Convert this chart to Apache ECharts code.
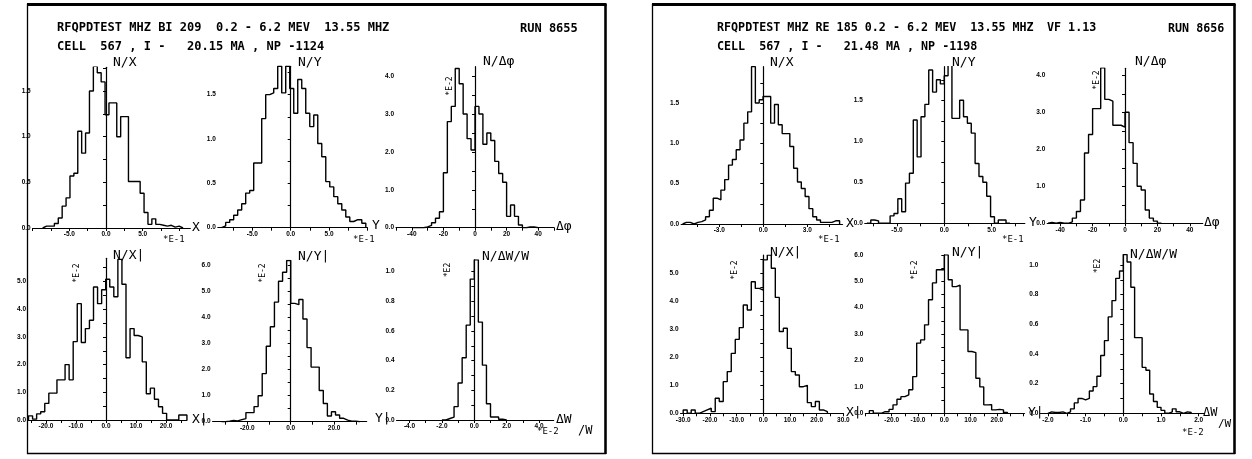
<!DOCTYPE html>
<html><head><meta charset="utf-8">
<script src="https://cdn.jsdelivr.net/npm/echarts@6/dist/echarts.min.js"></script>
<style>html,body{margin:0;padding:0;background:#fff}#c{width:1252px;height:459px}</style>
</head><body><div id="c"></div>
<script>
// ---------------- DATA ----------------
// Left run 8655
const L1_binStart = -8.64, L1_binWidth = 0.532;
const L1_counts = [0.02,0.02,0.02,0.05,0.11,0.24,0.33,0.57,0.6,1.06,0.82,1.04,1.5,1.77,1.7,1.6,1.24,1.37,1.37,1.0,1.22,1.22,0.51,0.51,0.51,0.38,0.17,0.04,0.1,0.04,0.03,0.02,0.03,0.01,0.02,0.0];
const L1_xLabels = [-5, 0, 5];
const L1_yLabels = [0, 0.5, 1.0, 1.5];

const L2_binStart = -9.0, L2_binWidth = 0.522;
const L2_counts = [0.02,0.06,0.09,0.14,0.2,0.27,0.39,0.42,0.73,0.73,1.23,1.5,1.52,1.57,1.82,1.52,1.82,1.57,1.29,1.67,1.57,1.29,1.14,1.27,0.95,0.8,0.52,0.46,0.35,0.27,0.2,0.12,0.07,0.09,0.09,0.05];
const L2_xLabels = [-5, 0, 5];
const L2_yLabels = [0, 0.5, 1.0, 1.5];

const L3_binStart = -40, L3_binWidth = 2.5;
const L3_counts = [0,0,0,0.02,0.06,0.13,0.25,0.42,1.45,2.8,3.2,4.2,3.8,3.0,2.35,2.05,3.2,3.0,2.2,2.5,2.3,1.75,1.43,1.2,0.3,0.6,0.3,0.07,0,0.02,0.02,0];
const L3_xLabels = [-40, -20, 0, 20, 40];
const L3_yLabels = [0, 1, 2, 3, 4];

const L4_binStart = -25.83, L4_binWidth = 1.354;
const L4_counts = [0.15,0.03,0.22,0.3,0.6,0.97,0.97,1.45,1.45,2.0,1.45,2.83,4.2,2.8,3.3,3.6,4.8,4.2,4.7,5.08,4.8,4.45,5.8,4.9,2.25,3.3,3.05,3.0,2.1,0.95,1.15,0.75,0.48,0.24,0,0,0,0.18,0.18];
const L4_xLabels = [-20, -10, 0, 10, 20];
const L4_yLabels = [0, 1, 2, 3, 4, 5];

const L5_binStart = -31.9, L5_binWidth = 1.877;
const L5_counts = [0.0,0.02,0.05,0.03,0.08,0.12,0.35,0.35,0.58,1.0,1.85,2.9,3.65,4.6,5.4,5.75,6.2,4.55,4.5,4.7,3.95,2.85,2.1,2.1,1.2,0.7,0.22,0.38,0.26,0.13,0.06,0.02,0.02,0.0];
const L5_xLabels = [-20, 0, 20];
const L5_yLabels = [0, 1, 2, 3, 4, 5, 6];

const L6_binStart = -2.0, L6_binWidth = 0.25;
const L6_counts = [0.0,0.01,0.02,0.09,0.25,0.42,0.64,0.95,1.08,0.66,0.37,0.11,0.02,0.02,0.005,0.0];
const L6_xLabels = [-4, -2, 0, 2, 4];
const L6_yLabels = [0, 0.2, 0.4, 0.6, 0.8, 1.0];

// Right run 8656
const R1_binStart = -5.5, R1_binWidth = 0.261;
const R1_counts = [0.02,0.02,0.0,0.02,0.03,0.05,0.09,0.17,0.32,0.3,0.42,0.55,0.73,0.8,0.92,1.04,1.25,1.39,1.95,1.5,1.54,1.58,1.58,1.25,1.48,1.23,1.12,1.12,0.96,0.69,0.52,0.44,0.34,0.19,0.09,0.05,0.02,0.02,0.02,0.04,0.04];
const R1_xLabels = [-3, 0, 3];
const R1_yLabels = [0, 0.5, 1.0, 1.5];

const R2_binStart = -8.17, R2_binWidth = 0.408;
const R2_counts = [0.0,0.04,0.03,0.0,0.0,0.0,0.09,0.12,0.3,0.14,0.49,0.61,1.26,0.81,1.3,1.45,1.87,1.6,1.75,1.7,1.8,1.93,1.28,1.28,1.5,1.3,1.22,1.1,0.73,0.57,0.5,0.33,0.08,0.0,0.04,0.04,0.0];
const R2_xLabels = [-5, 0, 5];
const R2_yLabels = [0, 0.5, 1.0, 1.5];

const R3_binStart = -47.5, R3_binWidth = 2.5;
const R3_counts = [0.02,0,0.02,0,0,0.04,0.14,0.32,0.63,1.9,2.4,3.1,3.1,4.2,3.35,3.3,2.65,2.65,2.6,3.0,2.18,1.62,1.0,0.9,0.36,0.14,0.06,0];
const R3_xLabels = [-40, -20, 0, 20, 40];
const R3_yLabels = [0, 1, 2, 3, 4];

const R4_binStart = -30, R4_binWidth = 1.5;
const R4_counts = [0.12,0,0.12,0,0.06,0.12,0.18,0.06,0.54,0.42,1.13,1.49,2.14,2.64,3.06,3.87,3.69,4.7,4.46,4.4,5.48,5.65,5.18,4.14,2.92,3.04,2.32,1.49,1.37,0.95,1.0,0.38,0.24,0.42,0.12,0.06];
const R4_xLabels = [-30, -20, -10, 0, 10, 20, 30];
const R4_yLabels = [0, 1, 2, 3, 4, 5];

const R5_binStart = -28.5, R5_binWidth = 1.5;
const R5_counts = [0.1,0,0,0.06,0.06,0.15,0.32,0.53,0.63,0.7,0.89,1.39,2.66,2.78,3.35,4.3,4.94,5.44,5.44,6.0,5.06,4.8,4.85,3.16,3.16,2.34,2.3,1.33,1.0,0.32,0.33,0.13,0.15,0.13,0.03];
const R5_xLabels = [-20, -10, 0, 10, 20];
const R5_yLabels = [0, 1, 2, 3, 4, 5, 6];

const R6_binStart = -2.0, R6_binWidth = 0.1;
const R6_counts = [0.01,0.005,0.005,0.01,0,0.01,0.03,0.07,0.1,0.09,0.1,0.15,0.18,0.25,0.39,0.49,0.65,0.76,0.91,0.96,1.07,1.02,0.85,0.51,0.51,0.31,0.29,0.13,0.08,0.04,0.02,0,0.01,0.03,0.01,0,0.01,0.005];
const R6_xLabels = [-2, -1, 0, 1, 2];
const R6_yLabels = [0, 0.2, 0.4, 0.6, 0.8, 1.0];

// ---------------- LAYOUT ----------------
const P = [
 {x0:106,y0:228,sx:7.33,sy:91.3,xmin:-10,xmax:11.5,ymax:1.76,xt:[-10,10,2.5],xl:L1_xLabels,xd:1,yt:0.25,yl:L1_yLabels,yd:1,h:[L1_binStart,L1_binWidth,L1_counts]},
 {x0:290.7,y0:227.7,sx:7.67,sy:88.7,xmin:-9.5,xmax:10,ymax:1.82,xt:[-7.5,10,2.5],xl:L2_xLabels,xd:1,yt:0.25,yl:L2_yLabels,yd:1,h:[L2_binStart,L2_binWidth,L2_counts]},
 {x0:475,y0:227.7,sx:1.58,sy:37.9,xmin:-50,xmax:50,ymax:4.25,xt:[-50,50,10],xl:L3_xLabels,xd:0,yt:0.5,yl:L3_yLabels,yd:1,h:[L3_binStart,L3_binWidth,L3_counts]},
 {x0:106,y0:420,sx:3,sy:27.7,xmin:-26,xmax:27,ymax:5.84,xt:[-25,25,5],xl:L4_xLabels,xd:1,yt:0.5,yl:L4_yLabels,yd:1,h:[L4_binStart,L4_binWidth,L4_counts]},
 {x0:290.7,y0:421.7,sx:2.17,sy:26,xmin:-36,xmax:35,ymax:6.2,xt:[-30,30,10],xl:L5_xLabels,xd:1,yt:0.5,yl:L5_yLabels,yd:1,h:[L5_binStart,L5_binWidth,L5_counts]},
 {x0:474.3,y0:420,sx:16.2,sy:148.3,xmin:-4.8,xmax:4.9,ymax:1.08,xt:[-4,4,1],xl:L6_xLabels,xd:1,yt:0.1,yl:L6_yLabels,yd:1,h:[L6_binStart,L6_binWidth,L6_counts]},
 {x0:763.3,y0:224,sx:14.67,sy:80.7,xmin:-5.6,xmax:5.4,ymax:1.95,xt:[-4.5,4.5,1.5],xl:R1_xLabels,xd:1,yt:0.25,yl:R1_yLabels,yd:1,h:[R1_binStart,R1_binWidth,R1_counts]},
 {x0:944.3,y0:223.3,sx:9.47,sy:82,xmin:-8.4,xmax:8.5,ymax:1.91,xt:[-7.5,7.5,2.5],xl:R2_xLabels,xd:1,yt:0.25,yl:R2_yLabels,yd:1,h:[R2_binStart,R2_binWidth,R2_counts]},
 {x0:1125,y0:223.3,sx:1.62,sy:37,xmin:-48,xmax:48,ymax:4.19,xt:[-40,40,10],xl:R3_xLabels,xd:0,yt:0.5,yl:R3_yLabels,yd:1,h:[R3_binStart,R3_binWidth,R3_counts]},
 {x0:763.3,y0:413.3,sx:2.67,sy:28,xmin:-31,xmax:30,ymax:5.65,xt:[-30,30,5],xl:R4_xLabels,xd:1,yt:0.5,yl:R4_yLabels,yd:1,h:[R4_binStart,R4_binWidth,R4_counts]},
 {x0:944.3,y0:413.3,sx:2.63,sy:26.4,xmin:-30,xmax:30.5,ymax:6.0,xt:[-30,30,5],xl:R5_xLabels,xd:1,yt:0.5,yl:R5_yLabels,yd:1,h:[R5_binStart,R5_binWidth,R5_counts]},
 {x0:1123.3,y0:413.3,sx:37.7,sy:148.3,xmin:-2.2,xmax:2.15,ymax:1.07,xt:[-2,2,0.5],xl:R6_xLabels,xd:1,yt:0.1,yl:R6_yLabels,yd:1,h:[R6_binStart,R6_binWidth,R6_counts]}
];

function range(a,b,s){const o=[];const n=Math.round((b-a)/s);for(let i=0;i<=n;i++)o.push(+(a+i*s).toFixed(6));return o;}
function histPoints(start,w,c){const p=[[start,0]];c.forEach((v,i)=>{const x=+(start+i*w).toFixed(6);p.push([x,v],[+(x+w).toFixed(6),v]);});p.push([+(start+c.length*w).toFixed(6),0]);return p;}

const LBL = {fontSize:6.5,fontWeight:'bold',fontFamily:'Liberation Sans',color:'#000'};
const grid=[],xAxis=[],yAxis=[],series=[];
P.forEach((p,i)=>{
  grid.push({left:p.x0+p.xmin*p.sx,width:(p.xmax-p.xmin)*p.sx,top:p.y0-p.ymax*p.sy,height:p.ymax*p.sy,containLabel:false});
  xAxis.push({gridIndex:i,type:'value',min:p.xmin,max:p.xmax,
    axisLine:{onZero:true,lineStyle:{color:'#000',width:1.2}},
    axisTick:{show:true,customValues:range(p.xt[0],p.xt[1],p.xt[2]),length:3,lineStyle:{color:'#000',width:1}},
    axisLabel:Object.assign({customValues:p.xl,margin:3,formatter:v=>(+v).toFixed(p.xd)},LBL),
    splitLine:{show:false}});
  const yt=range(0,Math.floor(p.ymax/p.yt+1e-6)*p.yt,p.yt);
  yAxis.push({gridIndex:i,type:'value',min:0,max:p.ymax,
    axisLine:{show:true,onZero:true,lineStyle:{color:'#000',width:1.2}},
    axisTick:{show:true,customValues:yt,length:3,lineStyle:{color:'#000',width:1}},
    axisLabel:Object.assign({customValues:p.yl,margin:2,formatter:v=>(+v).toFixed(p.yd)},LBL),
    splitLine:{show:false}});
  series.push({type:'line',xAxisIndex:i,yAxisIndex:i,data:histPoints(p.h[0],p.h[1],p.h[2]),
    symbol:'none',showSymbol:false,silent:true,animation:false,
    lineStyle:{color:'#000',width:1.4}});
});

const MONO='"DejaVu Sans Mono"';
function T(text,x,y,size,opt){opt=opt||{};
  return {type:'text',x:x,y:y,rotation:opt.rot||0,silent:true,z:10,
    style:{text:text,fill:'#000',font:(opt.bold?'bold ':'')+size+'px '+MONO,
      textAlign:opt.align||'left',align:opt.align||'left',textVerticalAlign:'middle',verticalAlign:'middle'}};}
const R90=Math.PI/2;
const B={bold:true};
const graphic=[
 {type:'rect',shape:{x:27.5,y:4.5,width:578,height:449},style:{fill:'none',stroke:'#000',lineWidth:1.3},silent:true},
 {type:'line',shape:{x1:27,y1:4.5,x2:606.5,y2:4.5},style:{stroke:'#000',lineWidth:3},silent:true},
 {type:'line',shape:{x1:605.5,y1:4,x2:605.5,y2:454},style:{stroke:'#000',lineWidth:2.5},silent:true},
 {type:'rect',shape:{x:652.5,y:4.5,width:582,height:449},style:{fill:'none',stroke:'#000',lineWidth:1.3},silent:true},
 {type:'line',shape:{x1:652,y1:4.5,x2:1235.5,y2:4.5},style:{stroke:'#000',lineWidth:3},silent:true},
 {type:'line',shape:{x1:1234.5,y1:4,x2:1234.5,y2:454},style:{stroke:'#000',lineWidth:2.5},silent:true},
 // headers
 T('RFQPDTEST MHZ BI 209  0.2 - 6.2 MEV  13.55 MHZ',57,28,12,B),
 T('CELL  567 , I -   20.15 MA , NP -1124',57,47,12,B),
 T('RUN 8655',520,29,12,B),
 T('RFQPDTEST MHZ RE 185 0.2 - 6.2 MEV  13.55 MHZ',717,28,11.7,B),
 T('VF 1.13',1047,28,11.7,B),
 T('RUN 8656',1168,29,11.7,B),
 T('CELL  567 , I -   21.48 MA , NP -1198',717,47,11.7,B),
 // left titles / axis names
 T('N/X',113,63,13), T('X',192,228,13), T('*E-1',163,240,9),
 T('N/Y',298,63,13), T('Y',372,226,13), T('*E-1',353,240,9),
 T('N/\u0394\u03c6',483,62,13), T('\u0394\u03c6',556,227,13), T('*E-2',450,86,8,{rot:R90,align:'center'}),
 T('N/X|',113,256,13), T('X|',192,420,13), T('*E-2',77,273,8,{rot:R90,align:'center'}),
 T('N/Y|',298,257,13), T('Y|',375,419,13), T('*E-2',263,273,8,{rot:R90,align:'center'}),
 T('N/\u0394W/W',482,257,13), T('\u0394W',556,420,13), T('/W',578,431,12), T('*E-2',537,432,9), T('*E2',448,270,8,{rot:R90,align:'center'}),
 // right titles / axis names
 T('N/X',770,63,13), T('X',846,224,13), T('*E-1',818,240,9),
 T('N/Y',952,63,13), T('Y',1029,223,13), T('*E-1',1002,240,9),
 T('N/\u0394\u03c6',1135,62,13), T('\u0394\u03c6',1204,223,13), T('*E-2',1097,80,8,{rot:R90,align:'center'}),
 T('N/X|',770,253,13), T('X|',846,413,13), T('*E-2',735,270,8,{rot:R90,align:'center'}),
 T('N/Y|',952,253,13), T('Y|',1028,413,13), T('*E-2',915,270,8,{rot:R90,align:'center'}),
 T('N/\u0394W/W',1130,255,13), T('\u0394W',1203,413,12), T('/W',1218,424,11), T('*E-2',1182,433,9), T('*E2',1098,266,8,{rot:R90,align:'center'})
];

const chart=echarts.init(document.getElementById('c'),null,{renderer:'canvas'});
chart.setOption({animation:false,backgroundColor:'#fff',grid,xAxis,yAxis,series,graphic});
</script></body></html>
